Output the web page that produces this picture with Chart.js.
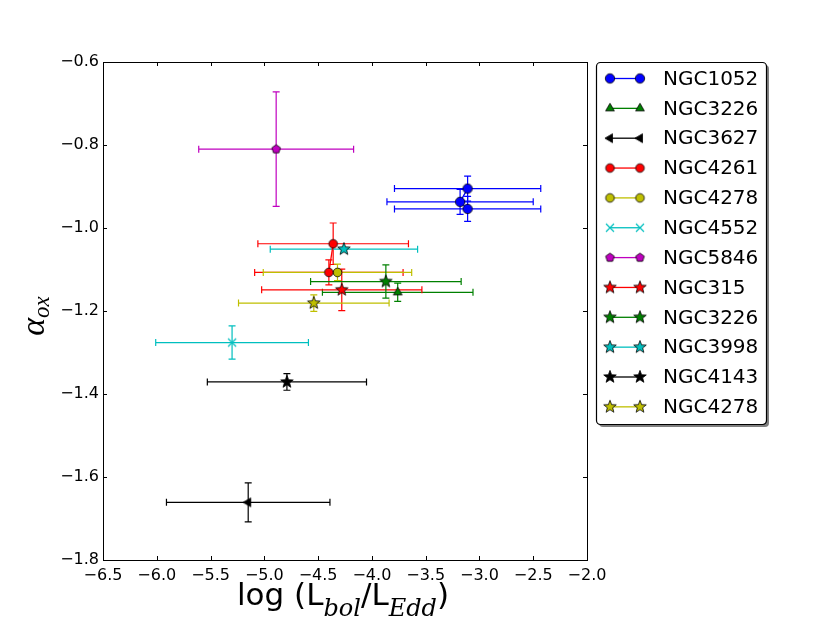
<!DOCTYPE html>
<html lang="en">
<head>
<meta charset="UTF-8" />
<title>alpha_ox vs log Lbol/LEdd</title>
<script src="https://cdn.jsdelivr.net/npm/chart.js"></script>
<style>
  body {margin:0;background:#fff;}
  canvas {display:block;}
</style>
</head>
<body>
<canvas id="chart" width="830" height="623"></canvas>
<script>
// ---------- data ----------
const names   = ['NGC1052','NGC3226','NGC3627','NGC4261','NGC4278','NGC4552','NGC5846','NGC315','NGC3226','NGC3998','NGC4143','NGC4278'];
const colors  = ['#0000ff','#008000','#000000','#ff0000','#bfbf00','#00bfbf','#bf00bf','#ff0000','#008000','#00bfbf','#000000','#bfbf00'];
const markers = ['o','^','<','o','o','x','p','*','*','*','*','*'];
const xVals = [[-3.11,-3.18,-3.11],[-3.76],[-5.15],[-4.36,-4.40],[-4.32],[-5.30],[-4.89],[-4.28],[-3.87],[-4.26],[-4.79],[-4.54]];
const yVals = [[-0.905,-0.937,-0.954],[-1.155],[-1.661],[-1.038,-1.107],[-1.107],[-1.276],[-0.810],[-1.149],[-1.129],[-1.051],[-1.371],[-1.181]];
const xErrs = [[0.68,0.68,0.68],[0.70],[0.76],[0.70,0.69],[0.69],[0.71],[0.72],[0.745],[0.70],[0.685],[0.74],[0.70]];
const yErrs = [[0.03,0.03,0.03],[0.022],[0.047],[0.05,0.03],[0.02],[0.04],[0.138],[0.05],[0.04],[0],[0.02],[0.02]];
const xTicks = {min:-6.5, max:-2.0, step:0.5};
const yTicks = {min:-1.8, max:-0.6, step:0.2};

// ---------- marker images (matplotlib-like) ----------
const markerSize = {'o':4.3,'^':4.6,'<':4.6,'p':4.3,'*':6.6,'x':4};
function polyPts(n, r, start, inner){
  const pts=[];
  const k = inner ? 2*n : n;
  for(let i=0;i<k;i++){
    const a = start + i*2*Math.PI/k;
    const rr = inner && i%2 ? r*inner : r;
    pts.push([Math.cos(a)*rr, Math.sin(a)*rr]);
  }
  return pts;
}
function makeMarker(shape, fill, r){
  const size = Math.ceil(2*r+4);
  const c = document.createElement('canvas');
  c.width = c.height = size;
  const g = c.getContext('2d');
  const m = size/2;
  g.translate(m,m);
  if(shape==='x'){
    g.strokeStyle = fill; g.lineWidth = 1.2;
    g.beginPath();
    g.moveTo(-r,-r);g.lineTo(r,r);g.moveTo(-r,r);g.lineTo(r,-r);
    g.stroke();
    return c;
  }
  g.beginPath();
  if(shape==='o') g.arc(0,0,r,0,Math.PI*2);
  else {
    let pts;
    if(shape==='^') pts = polyPts(3,r*1.1,-Math.PI/2);
    else if(shape==='<') pts = polyPts(3,r*1.1,Math.PI);
    else if(shape==='p') pts = polyPts(5,r*1.05,-Math.PI/2);
    else pts = polyPts(5,r,-Math.PI/2,0.42);
    pts.forEach((p,i)=> i? g.lineTo(p[0],p[1]) : g.moveTo(p[0],p[1]));
    g.closePath();
  }
  g.fillStyle = fill; g.fill();
  g.strokeStyle = '#000'; g.lineWidth = 0.8; g.stroke();
  return c;
}

const datasets = names.map((n,i)=>{
  const r = markerSize[markers[i]] + (i===0 ? 0.4 : 0);
  return {
    label:n,
    data: xVals[i].map((x,j)=>({x, y:yVals[i][j], xe:xErrs[i][j], ye:yErrs[i][j]})),
    showLine:true,
    borderColor:colors[i],
    backgroundColor:colors[i],
    borderWidth:1.3,
    pointStyle:makeMarker(markers[i], colors[i], r),
    pointRadius:r,
    pointHoverRadius:r
  };
});

// ---------- plugins ----------
const minus = v => (v < -1e-9 ? '\u2212' : '') + Math.abs(v).toFixed(1);

const errorBars = {
  id:'errorBars',
  beforeDatasetsDraw(chart){
    const ctx = chart.ctx, xs = chart.scales.x, ys = chart.scales.y;
    chart.data.datasets.forEach(ds=>{
      ctx.save();
      ctx.strokeStyle = ds.borderColor;
      ctx.lineWidth = 1.2;
      ds.data.forEach(p=>{
        const px = xs.getPixelForValue(p.x), py = ys.getPixelForValue(p.y);
        const cap = 3.5;
        ctx.beginPath();
        if(p.xe){
          const a = xs.getPixelForValue(p.x - p.xe), b = xs.getPixelForValue(p.x + p.xe);
          ctx.moveTo(a,py); ctx.lineTo(b,py);
          ctx.moveTo(a,py-cap); ctx.lineTo(a,py+cap);
          ctx.moveTo(b,py-cap); ctx.lineTo(b,py+cap);
        }
        if(p.ye){
          const a = ys.getPixelForValue(p.y - p.ye), b = ys.getPixelForValue(p.y + p.ye);
          ctx.moveTo(px,a); ctx.lineTo(px,b);
          ctx.moveTo(px-cap,a); ctx.lineTo(px+cap,a);
          ctx.moveTo(px-cap,b); ctx.lineTo(px+cap,b);
        }
        ctx.stroke();
      });
      ctx.restore();
    });
  }
};

const frame = {
  id:'frame',
  afterDraw(chart){
    const ctx = chart.ctx, a = chart.chartArea, xs = chart.scales.x, ys = chart.scales.y;
    ctx.save();
    ctx.strokeStyle = '#000'; ctx.lineWidth = 1;
    ctx.strokeRect(a.left+0.5, a.top+0.5, a.right-a.left, a.bottom-a.top);
    ctx.beginPath();
    xs.ticks.forEach(t=>{
      const x = Math.round(xs.getPixelForValue(t.value))+0.5;
      ctx.moveTo(x,a.bottom); ctx.lineTo(x,a.bottom-4);
      ctx.moveTo(x,a.top); ctx.lineTo(x,a.top+4);
    });
    ys.ticks.forEach(t=>{
      const y = Math.round(ys.getPixelForValue(t.value))+0.5;
      ctx.moveTo(a.left,y); ctx.lineTo(a.left+4,y);
      ctx.moveTo(a.right,y); ctx.lineTo(a.right-4,y);
    });
    ctx.stroke();

    // axis titles with subscripts
    ctx.fillStyle = '#000';
    ctx.textBaseline = 'alphabetic';
    const main = '31px "DejaVu Sans"', sub = 'italic 24px "DejaVu Serif"';
    const parts = [['log (L',main,0],['bol',sub,11],['/L',main,0],['Edd',sub,11],[')',main,0]];
    let w = 0;
    parts.forEach(p=>{ctx.font=p[1]; w+=ctx.measureText(p[0]).width;});
    let x = 343 - w/2;
    parts.forEach(p=>{ctx.font=p[1]; ctx.fillText(p[0], x, 605+p[2]); x+=ctx.measureText(p[0]).width;});

    ctx.translate(44, (a.top+a.bottom)/2+5);
    ctx.rotate(-Math.PI/2);
    ctx.font = 'italic 34px "Liberation Serif"';
    const wa = ctx.measureText('\u03b1').width;
    ctx.font = 'italic 23px "Liberation Serif"';
    const wo = ctx.measureText('ox').width;
    let sx = -(wa+wo)/2;
    ctx.font = 'italic 34px "Liberation Serif"';
    ctx.fillText('\u03b1', sx, 0);
    ctx.font = 'italic 23px "Liberation Serif"';
    ctx.fillText('ox', sx+wa, 5);
    ctx.restore();
  }
};

const legendBox = {
  id:'legendBox',
  afterDraw(chart){
    const ctx = chart.ctx;
    const bx = 596, by = 62, bw = 170, bh = 362, rad = 4;
    const rr = (x,y,w,h)=>{ctx.beginPath();ctx.roundRect(x,y,w,h,rad);};
    ctx.save();
    ctx.fillStyle = 'rgba(0,0,0,0.5)';
    rr(bx+3,by+3,bw,bh); ctx.fill();
    ctx.fillStyle = '#fff';
    rr(bx,by,bw,bh); ctx.fill();
    ctx.strokeStyle = '#000'; ctx.lineWidth = 1.2;
    rr(bx+0.5,by+0.5,bw,bh); ctx.stroke();
    ctx.font = '20px "DejaVu Sans"';
    ctx.textBaseline = 'middle';
    chart.data.datasets.forEach((ds,i)=>{
      const y = 78.5 + i*29.85;
      ctx.strokeStyle = ds.borderColor; ctx.lineWidth = 1.3;
      ctx.beginPath(); ctx.moveTo(610,y); ctx.lineTo(640,y); ctx.stroke();
      [610,640].forEach(x=>{
        const s = ds.pointStyle;
        ctx.drawImage(s, x - s.width/2, y - s.height/2);
      });
      ctx.fillStyle = '#000';
      ctx.fillText(ds.label, 663, y+1);
    });
    ctx.restore();
  }
};

// ---------- chart ----------
const tickFont = {family:'"DejaVu Sans"', size:16};
new Chart(document.getElementById('chart'), {
  type:'scatter',
  data:{datasets},
  options:{
    responsive:false,
    animation:false,
    devicePixelRatio:1,
    layout:{padding:{top:62, right:243, left:0, bottom:0}},
    plugins:{legend:{display:false}, tooltip:{enabled:false}},
    scales:{
      x:{
        type:'linear', min:xTicks.min, max:xTicks.max,
        grid:{display:false, drawTicks:false}, border:{display:false},
        ticks:{stepSize:xTicks.step, color:'#000', font:tickFont, padding:6, maxRotation:0, callback:minus},
        afterFit(s){ s.height = 63; }
      },
      y:{
        type:'linear', min:yTicks.min, max:yTicks.max,
        grid:{display:false, drawTicks:false}, border:{display:false},
        ticks:{stepSize:yTicks.step, color:'#000', font:tickFont, padding:4, callback:minus},
        afterFit(s){ s.width = 103; }
      }
    }
  },
  plugins:[errorBars, frame, legendBox]
});
</script>
</body>
</html>
